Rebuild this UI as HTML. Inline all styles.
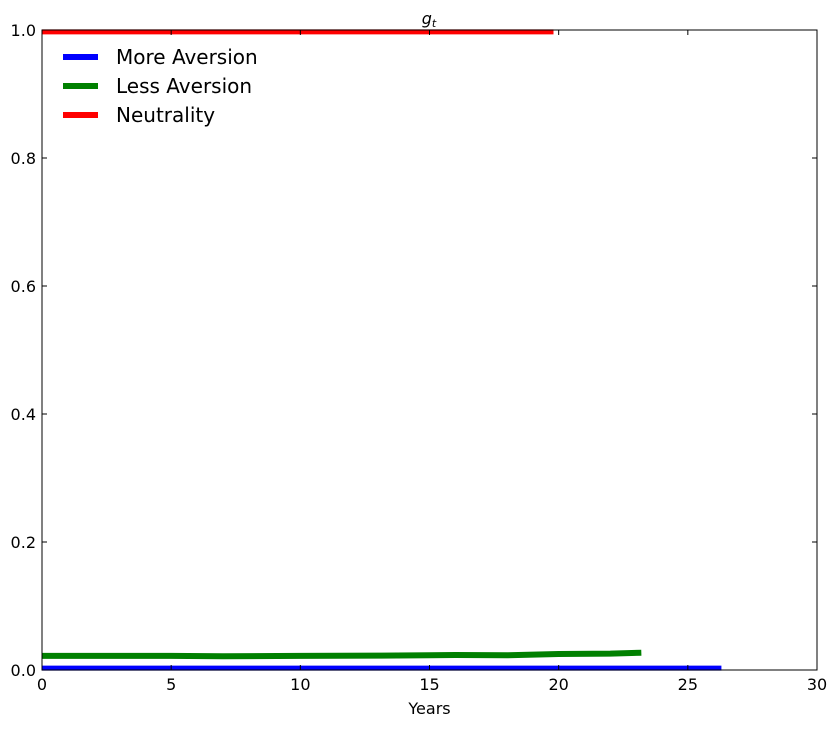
<!DOCTYPE html>
<html><head><meta charset="utf-8"><style>
body{margin:0;background:#fff;}
svg text{font-family:"DejaVu Sans","Liberation Sans",sans-serif;}
</style></head><body>
<svg id="chart" width="837" height="728"></svg>
<script>
const moreX=[0,5,10,15,20,26.3];
const moreY=[0.003,0.003,0.003,0.003,0.003,0.003];
const lessX=[0,3,5,7,10,13,15,16,18,20,22,23.2];
const lessY=[0.022,0.022,0.022,0.0215,0.022,0.0225,0.023,0.0235,0.023,0.025,0.0255,0.027];
const neutX=[0,5,10,15,19.8];
const neutY=[0.997,0.997,0.997,0.997,0.997];
const xTicks=[0,5,10,15,20,25,30];
const yTicks=[0.0,0.2,0.4,0.6,0.8,1.0];
const L=42,R=817,T=30,B=670;
const sx=v=>L+(v/30)*(R-L);
const sy=v=>B-v*(B-T);
const svg=document.getElementById('chart');
const NS='http://www.w3.org/2000/svg';
function mk(tag,attrs,parent){const e=document.createElementNS(NS,tag);for(const k in attrs)e.setAttribute(k,attrs[k]);(parent||svg).appendChild(e);return e;}
function series(xs,ys,color,name,w){
  const p=mk('polyline',{points:xs.map((x,i)=>sx(x)+','+sy(ys[i])).join(' '),fill:'none',stroke:color,'stroke-width':w});
  
  
}
series(moreX,moreY,'#0000ff','more-aversion-line',5);
series(lessX,lessY,'#008000','less-aversion-line',6);
series(neutX,neutY,'#ff0000','neutrality-line',5);
const frame=mk('rect',{x:L,y:T,width:R-L,height:B-T,fill:'none',stroke:'#000','stroke-width':1});


xTicks.forEach(t=>{
  const x=sx(t);
  mk('line',{x1:x,x2:x,y1:B,y2:B-5,stroke:'#000'});
  mk('line',{x1:x,x2:x,y1:T,y2:T+5,stroke:'#000'});
  const tx=mk('text',{x:x,y:B+20,'text-anchor':'middle','font-size':16});
  tx.textContent=t;
  
  
});
yTicks.forEach(t=>{
  const y=sy(t);
  mk('line',{x1:L,x2:L+5,y1:y,y2:y,stroke:'#000'});
  mk('line',{x1:R,x2:R-5,y1:y,y2:y,stroke:'#000'});
  const ty=mk('text',{x:L-6,y:y+6,'text-anchor':'end','font-size':16});
  ty.textContent=t.toFixed(1);
  
  
});
const xt=mk('text',{x:(L+R)/2,y:714,'text-anchor':'middle','font-size':16});
xt.textContent='Years';


const title=mk('text',{x:429,y:24,'text-anchor':'middle','font-size':16,'font-style':'italic','font-family':'Liberation Serif, serif'});
title.innerHTML='g<tspan font-size="11" dy="3">t</tspan>';


const leg=[['More Aversion','#0000ff'],['Less Aversion','#008000'],['Neutrality','#ff0000']];
leg.forEach((l,i)=>{
  const g=mk('g',{});
  
  
  const y=57+i*29;
  mk('line',{x1:63,x2:98,y1:y,y2:y,stroke:l[1],'stroke-width':6},g);
  const t=mk('text',{x:116,y:y+7,'font-size':20},g);
  t.textContent=l[0];
});
</script>
</body></html>
